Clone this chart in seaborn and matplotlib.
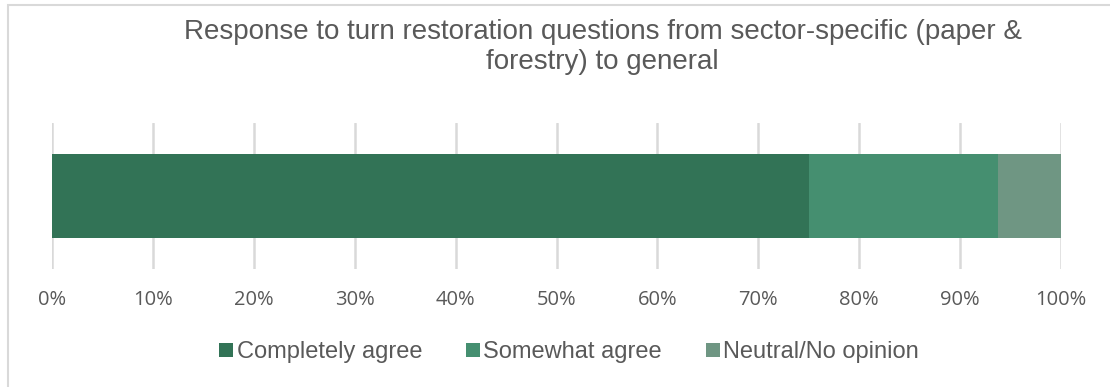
import matplotlib
matplotlib.use("Agg")
import matplotlib.pyplot as plt
from matplotlib.lines import Line2D
from matplotlib.patches import Rectangle
import numpy as np
import pandas as pd
import seaborn as sns

title = "Response to turn restoration questions from sector-specific (paper &\nforestry) to general"
categories = ["Completely agree", "Somewhat agree", "Neutral/No opinion"]
shares = [75.0, 18.75, 6.25]
colors = ["#327356", "#458F70", "#6F9683"]
tick_values = [0, 10, 20, 30, 40, 50, 60, 70, 80, 90, 100]
tick_labels = [f"{v}%" for v in tick_values]

sns.set_theme(style="white")
plt.rcParams["font.family"] = ["Liberation Sans", "DejaVu Sans"]

text_color = "#595959"
grid_color = "#D9D9D9"

fig = plt.figure(figsize=(11.1, 3.87), dpi=100)
ax = fig.add_axes([52 / 1110, 1 - 269 / 387, (1061 - 52) / 1110, (269 - 123) / 387])

# stacked horizontal bar: draw cumulative totals from the widest down
cum = np.cumsum(shares)
for cat, total, col in reversed(list(zip(categories, cum, colors))):
    df = pd.DataFrame({"row": ["all"], "value": [total]})
    sns.barplot(data=df, x="value", y="row", orient="h", color=col,
                width=0.57, saturation=1, linewidth=0, ax=ax, zorder=3)

ax.set_xlim(0, 100)
ax.set_ylim(0.5, -0.5)
ax.set_xticks(tick_values)
ax.set_xticklabels(tick_labels, fontsize=14.5, color=text_color,
                   family=["Open Sans", "DejaVu Sans"])
ax.set_yticks([])
ax.set_xlabel("")
ax.set_ylabel("")
ax.tick_params(axis="x", length=0, pad=15)
ax.grid(axis="x", color=grid_color, linewidth=1.8, zorder=0)
ax.set_axisbelow(True)
for s in ax.spines.values():
    s.set_visible(False)

fig.text(0.543, 1 - 19 / 387, title, ha="center", va="top",
         fontsize=20, color=text_color, linespacing=1.2)

handles = [Line2D([0], [0], marker="s", linestyle="none", markersize=9.5,
                  markerfacecolor=c, markeredgewidth=0) for c in colors]
fig.legend(handles, categories, loc="center", bbox_to_anchor=(0.511, 1 - 352 / 387),
           ncol=3, frameon=False, fontsize=17, handletextpad=0.0,
           columnspacing=1.7, labelcolor=text_color, handlelength=0.9,
           borderpad=0, borderaxespad=0)

# chart area border
fig.patches.append(Rectangle((8 / 1110, -0.1), 1.2, 1 - 5 / 387 + 0.1,
                             transform=fig.transFigure, fill=False,
                             edgecolor=grid_color, linewidth=1.5))

fig.savefig("out.png", dpi=100, facecolor="white")
